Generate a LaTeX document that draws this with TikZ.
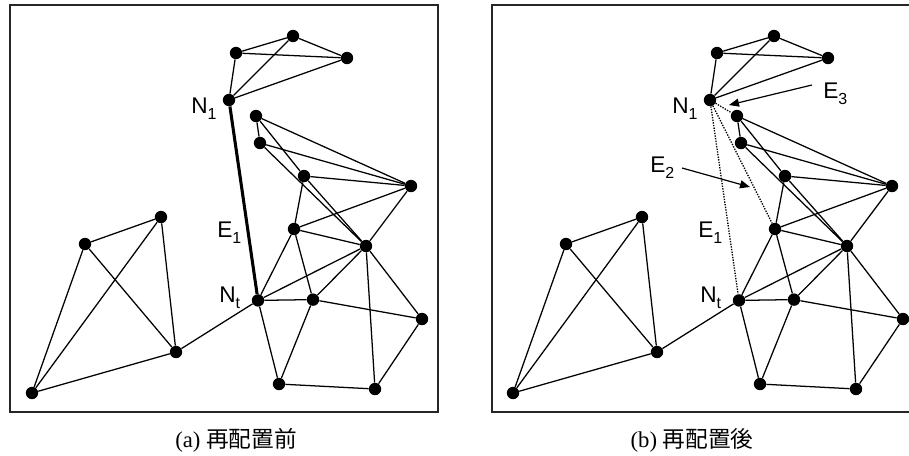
\documentclass[tikz,border=0pt]{standalone}
\usepackage{fontspec}
\setmainfont{Liberation Serif}
\setsansfont{Liberation Sans}
\newfontfamily\jpfont{Noto Sans CJK JP}
\usetikzlibrary{arrows.meta}

\tikzset{
  no/.style={circle, fill=black, inner sep=0pt, minimum size=9.3pt},
  aresta/.style={line width=0.95pt, black},
  pontilhada/.style={line width=1pt, dash pattern=on 1pt off 1pt},
  grossa/.style={line width=2.3pt},
  moldura/.style={line width=1.1pt, black!85},
  rotulo/.style={font=\sffamily\fontsize{17}{19}\selectfont, inner sep=0pt, anchor=base west},
  legenda/.style={font=\fontsize{17}{19}\selectfont, inner sep=0pt},
  seta/.style={line width=0.9pt, -{Triangle[length=7.5pt, width=6pt]}}
}

% indice abaixo da linha, como na figura
\newcommand{\ind}[1]{\raisebox{-0.3em}{\fontsize{12}{12}\selectfont #1}}

% rede desenhada nas duas molduras (#1 = prefixo dos nomes)
\newcommand{\rede}[1]{%
  % grupo superior
  \node[no] (#1ta) at (236,53) {};
  \node[no] (#1tb) at (293,36) {};
  \node[no] (#1tc) at (347,58) {};
  \node[no] (#1n1) at (229,100) {};
  % grupo da direita
  \node[no] (#1d) at (256,116) {};
  \node[no] (#1e) at (260,143) {};
  \node[no] (#1f) at (304,176) {};
  \node[no] (#1g) at (411,186) {};
  \node[no] (#1h) at (294,229) {};
  \node[no] (#1k) at (366,246) {};
  \node[no] (#1nt) at (258,300.4) {};
  \node[no] (#1l) at (313,299.6) {};
  \node[no] (#1m) at (422,319) {};
  \node[no] (#1q) at (279,384) {};
  \node[no] (#1r) at (375,389) {};
  % grupo da esquerda
  \node[no] (#1i) at (161,217) {};
  \node[no] (#1j) at (85,244) {};
  \node[no] (#1o) at (176,352) {};
  \node[no] (#1p) at (32,393) {};
  % arestas
  \foreach \u/\v in {ta/tb, tb/tc, ta/tc, ta/n1, tb/n1, tc/n1,
                     d/e, d/f, d/g, e/g, e/k, f/k, f/g, f/h, h/g, h/k, g/k,
                     h/nt, h/l, k/nt, k/l, k/r, k/m, nt/l, l/m, nt/q, l/q, q/r, r/m,
                     j/i, j/o, j/p, i/p, i/o, p/o, o/nt}
    \draw[aresta] (#1\u) -- (#1\v);
}

\begin{document}
\begin{tikzpicture}[x=0.75pt, y=-0.75pt]
  % 1. AREA TOTAL (mesmas proporcoes da figura)
  \useasboundingbox (0,0) rectangle (909,455);

  % ==========================================
  % 2. MOLDURA (a): ANTES DO REPOSICIONAMENTO
  % ==========================================
  \draw[moldura] (10,5) rectangle (438,412);
  \rede{a}

  % aresta E1 em destaque
  \draw[grossa] (an1) -- (ant);

  % rotulos
  \node[rotulo] (lan1) at (191,113) {N\ind{1}};
  \node[rotulo] (lae1) at (217,237) {E\ind{1}};
  \node[rotulo] (lant) at (219,302) {N\ind{t}};

  \node[legenda] (capa) at (236,440) {(a) {\jpfont 再配置前}};

  % ==========================================
  % 3. MOLDURA (b): DEPOIS DO REPOSICIONAMENTO
  % ==========================================
  % a borda da direita fica fora da figura
  \draw[moldura] (909,5) -- (492,5) -- (492,412) -- (909,412);
  \begin{scope}[shift={(481,0)}]
    \rede{b}
  \end{scope}

  % novas arestas pontilhadas
  \draw[pontilhada] (bn1) -- (bnt);
  \draw[pontilhada] (bn1) -- (bh);
  \draw[pontilhada] (bn1) -- (bd);

  % rotulos
  \node[rotulo] (lbn1) at (672,113) {N\ind{1}};
  \node[rotulo] (lbe1) at (698,237) {E\ind{1}};
  \node[rotulo] (lbnt) at (700,302) {N\ind{t}};
  \node[rotulo] (lbe2) at (650,172) {E\ind{2}};
  \node[rotulo] (lbe3) at (823,98) {E\ind{3}};

  % setas indicando E2 e E3
  \coordinate (pe2) at (682,168);
  \coordinate (te2) at (750,187);
  \coordinate (pe3) at (812,85);
  \coordinate (te3) at (729,105);
  \draw[seta] (pe2) -- (te2);
  \draw[seta] (pe3) -- (te3);

  \node[legenda] (capb) at (692,440) {(b) {\jpfont 再配置後}};
\end{tikzpicture}
\end{document}
